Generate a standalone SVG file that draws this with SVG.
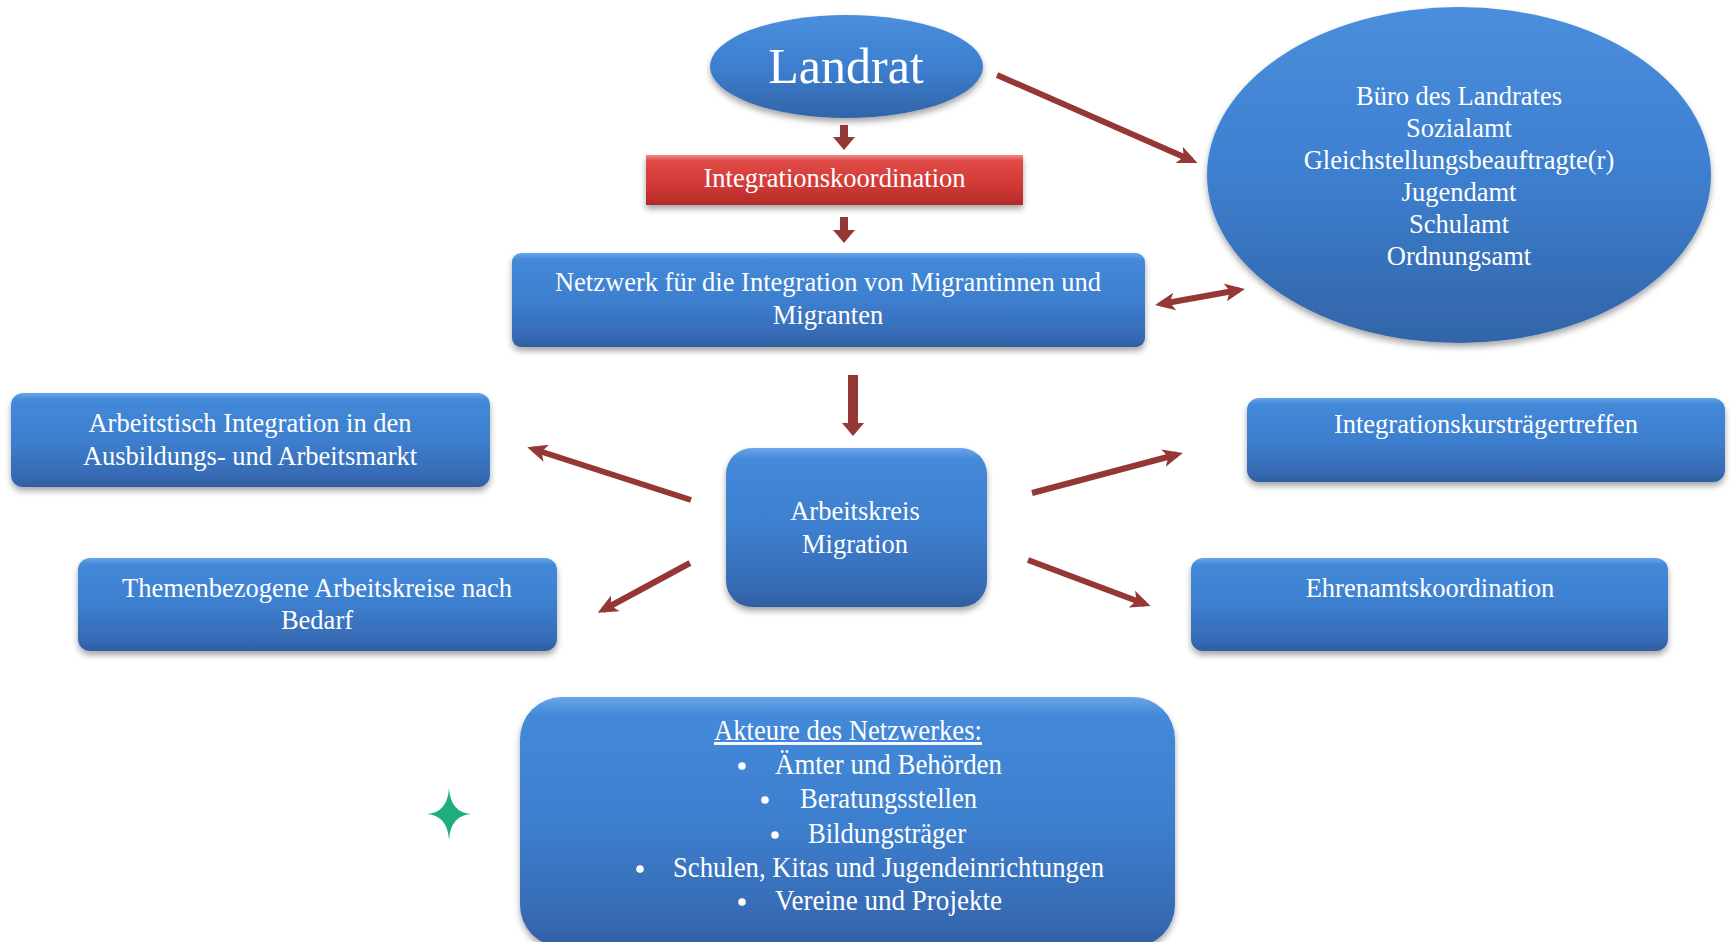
<svg xmlns="http://www.w3.org/2000/svg" width="1731" height="942" viewBox="0 0 1731 942">
<defs>
<linearGradient id="gBlue" x1="0" y1="0" x2="0" y2="1">
<stop offset="0" stop-color="#6aa6ea"/>
<stop offset="0.07" stop-color="#4489d9"/>
<stop offset="0.5" stop-color="#3d7fcf"/>
<stop offset="0.9" stop-color="#3669b2"/>
<stop offset="1" stop-color="#2f5e9f"/>
</linearGradient>
<linearGradient id="gEll" x1="0" y1="0" x2="0" y2="1">
<stop offset="0" stop-color="#4a8edc"/>
<stop offset="0.5" stop-color="#3d7fcf"/>
<stop offset="1" stop-color="#3264a8"/>
</linearGradient>
<linearGradient id="gRed" x1="0" y1="0" x2="0" y2="1">
<stop offset="0" stop-color="#f08a88"/>
<stop offset="0.12" stop-color="#df4a46"/>
<stop offset="0.6" stop-color="#d03a37"/>
<stop offset="1" stop-color="#b22a27"/>
</linearGradient>
<filter id="sh" x="-10%" y="-10%" width="120%" height="130%">
<feDropShadow dx="0" dy="4" stdDeviation="3" flood-color="#000" flood-opacity="0.35"/>
</filter>
<marker id="ah" viewBox="0 0 20 20" markerWidth="20" markerHeight="20" refX="14" refY="10" orient="auto-start-reverse" markerUnits="userSpaceOnUse">
<path d="M0,1 L20,10 L0,19 L5,10 Z" fill="#953735"/>
</marker>
<style>
.box{fill:url(#gBlue);filter:url(#sh);}
.ell{fill:url(#gEll);filter:url(#sh);}
.t{font-family:"Liberation Serif","Times New Roman",serif;fill:#fff;font-size:26.5px;text-anchor:middle;}
.tc{font-family:"Liberation Serif","Times New Roman",serif;fill:#fff;font-size:29px;}
.ln{stroke:#953735;stroke-width:6;fill:none;}
.blk{fill:#953735;}
.bul{fill:#fff;}
</style>
</defs>

<g id="connectors">
<path class="blk" d="M840,125 L848,125 L848,137 L855,137 L844,150 L833,137 L840,137 Z"/>
<path class="blk" d="M840,217 L848,217 L848,230 L855,230 L844,243 L833,230 L840,230 Z"/>
<path class="blk" d="M848,375 L858,375 L858,423 L864,423 L853,436 L842,423 L848,423 Z"/>
<line class="ln" x1="997" y1="75" x2="1192" y2="160.5" marker-end="url(#ah)"/>
<line class="ln" x1="1161" y1="304" x2="1239" y2="290" marker-start="url(#ah)" marker-end="url(#ah)"/>
<line class="ln" x1="691" y1="500" x2="533" y2="449" marker-end="url(#ah)"/>
<line class="ln" x1="690" y1="563" x2="603" y2="610" marker-end="url(#ah)"/>
<line class="ln" x1="1032" y1="493" x2="1177" y2="454.5" marker-end="url(#ah)"/>
<line class="ln" x1="1028" y1="560" x2="1145" y2="604" marker-end="url(#ah)"/>
</g>

<g id="landrat">
<ellipse class="ell" cx="846.5" cy="66.5" rx="136.5" ry="51.5"/>
<text class="t" x="846" y="83" style="font-size:50px">Landrat</text>
</g>

<g id="integrationskoordination">
<rect x="646" y="155" width="377" height="50" fill="url(#gRed)" filter="url(#sh)"/>
<text class="t" x="834.5" y="187">Integrationskoordination</text>
</g>

<g id="aemter">
<ellipse class="ell" cx="1459" cy="175" rx="252" ry="168"/>
<text class="t" x="1459" y="105">Büro des Landrates</text>
<text class="t" x="1459" y="137">Sozialamt</text>
<text class="t" x="1459" y="169">Gleichstellungsbeauftragte(r)</text>
<text class="t" x="1459" y="201">Jugendamt</text>
<text class="t" x="1459" y="233">Schulamt</text>
<text class="t" x="1459" y="265">Ordnungsamt</text>
</g>

<g id="netzwerk">
<rect class="box" x="512" y="253" width="633" height="94" rx="9"/>
<text class="t" x="828" y="291">Netzwerk für die Integration von Migrantinnen und</text>
<text class="t" x="828" y="324">Migranten</text>
</g>

<g id="arbeitstisch">
<rect class="box" x="11" y="393" width="479" height="94" rx="12"/>
<text class="t" x="250" y="432">Arbeitstisch Integration in den</text>
<text class="t" x="250" y="465">Ausbildungs- und Arbeitsmarkt</text>
</g>

<g id="themen">
<rect class="box" x="78" y="558" width="479" height="93" rx="12"/>
<text class="t" x="317" y="597">Themenbezogene Arbeitskreise nach</text>
<text class="t" x="317" y="629">Bedarf</text>
</g>

<g id="arbeitskreis">
<rect class="box" x="726" y="448" width="261" height="159" rx="26"/>
<text class="t" x="855" y="520">Arbeitskreis</text>
<text class="t" x="855" y="553">Migration</text>
</g>

<g id="integrationskurs">
<rect class="box" x="1247" y="398" width="478" height="84" rx="12"/>
<text class="t" x="1486" y="433">Integrationskursträgertreffen</text>
</g>

<g id="ehrenamt">
<rect class="box" x="1191" y="558" width="477" height="93" rx="12"/>
<text class="t" x="1430" y="597">Ehrenamtskoordination</text>
</g>

<g id="akteure">
<rect class="box" x="520" y="697" width="655" height="250" rx="42"/>
<text class="tc" x="714" y="740" textLength="268" lengthAdjust="spacingAndGlyphs" text-decoration="underline">Akteure des Netzwerkes:</text>
<circle class="bul" cx="742" cy="766" r="3.8"/>
<text class="tc" x="775" y="774" textLength="227" lengthAdjust="spacingAndGlyphs">Ämter und Behörden</text>
<circle class="bul" cx="765" cy="800" r="3.8"/>
<text class="tc" x="800" y="808" textLength="177" lengthAdjust="spacingAndGlyphs">Beratungsstellen</text>
<circle class="bul" cx="775" cy="835" r="3.8"/>
<text class="tc" x="808" y="843" textLength="158" lengthAdjust="spacingAndGlyphs">Bildungsträger</text>
<circle class="bul" cx="640" cy="869" r="3.8"/>
<text class="tc" x="673" y="877" textLength="431" lengthAdjust="spacingAndGlyphs">Schulen, Kitas und Jugendeinrichtungen</text>
<circle class="bul" cx="742" cy="902" r="3.8"/>
<text class="tc" x="775" y="910" textLength="227" lengthAdjust="spacingAndGlyphs">Vereine und Projekte</text>
</g>

<g id="star">
<path d="M449,788 Q450.5,812.5 471,814 Q450.5,815.5 449,840 Q447.5,815.5 427,814 Q447.5,812.5 449,788 Z" fill="#1cae7e"/>
</g>
</svg>
